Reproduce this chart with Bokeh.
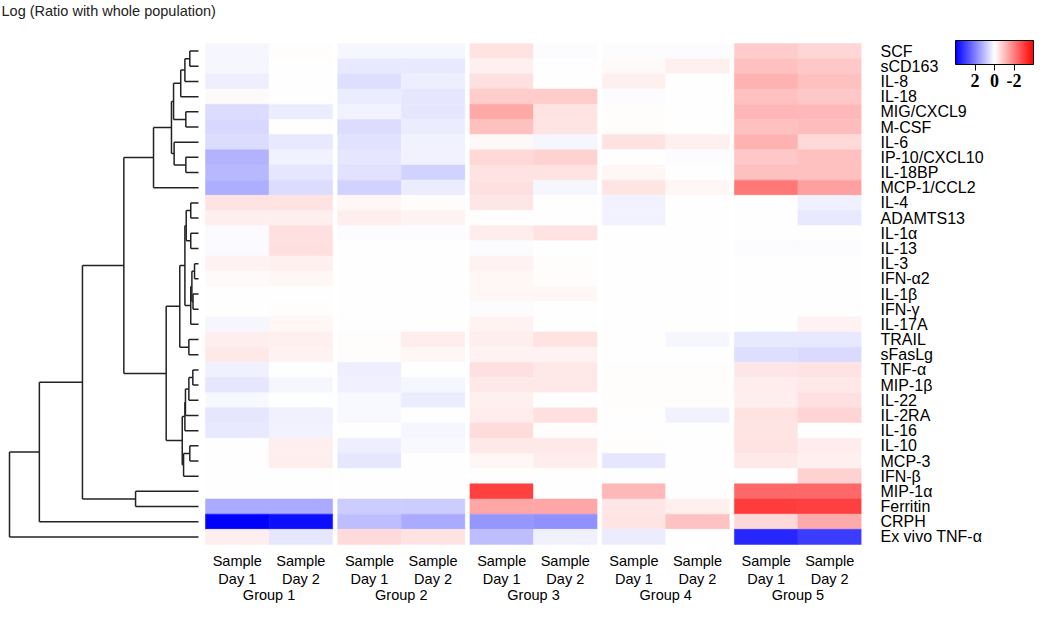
from bokeh.plotting import figure
from bokeh.models import (Range1d, FixedTicker, ColumnDataSource,
                          LinearColorMapper, ColorBar)
from bokeh.core.properties import value
from bokeh.transform import transform
from bokeh.embed import file_html
from bokeh.resources import INLINE

# ---------------- data ----------------
rows = ["SCF", "sCD163", "IL-8", "IL-18", "MIG/CXCL9", "M-CSF", "IL-6",
        "IP-10/CXCL10", "IL-18BP", "MCP-1/CCL2", "IL-4", "ADAMTS13", "IL-1α",
        "IL-13", "IL-3", "IFN-α2", "IL-1β", "IFN-γ", "IL-17A", "TRAIL", "sFasLg",
        "TNF-α", "MIP-1β", "IL-22", "IL-2RA", "IL-16", "IL-10", "MCP-3", "IFN-β",
        "MIP-1α", "Ferritin", "CRPH", "Ex vivo TNF-α"]
groups = ["Group 1", "Group 2", "Group 3", "Group 4", "Group 5"]
days = ["Sample\nDay 1", "Sample\nDay 2"]
title_text = "Log (Ratio with whole population)"

g1_day1 = [0.15, 0.15, 0.25, -0.08, 0.55, 0.6, 0.55, 1.2, 1.1, 1.25, -0.45, -0.27, 0.08, 0.08, -0.2, -0.08, 0.03,
           -0.03, 0.15, -0.27, -0.35, 0.22, 0.4, 0.1, 0.38, 0.35, 0.03, 0.03, 0.03, 0.03, 1.33, 4.0, -0.27]
g1_day2 = [-0.05, 0.02, -0.03, 0.02, 0.3, -0.03, 0.35, 0.2, 0.4, 0.55, -0.45, -0.27, -0.5, -0.5, -0.22, -0.15, -0.03,
           -0.05, -0.15, -0.25, -0.2, 0.03, 0.15, -0.03, 0.22, 0.2, -0.27, -0.27, 0.03, 0.03, 1.33, 3.75, 0.4]
g2_day1 = [0.15, 0.35, 0.5, 0.3, 0.2, 0.55, 0.45, 0.4, 0.45, 0.7, -0.15, -0.27, 0.05, 0.03, 0.03, 0.03, 0.02,
           0.03, 0.03, -0.05, -0.05, 0.25, 0.22, 0.1, 0.12, 0.03, 0.25, 0.38, 0.03, 0.03, 0.8, 1.0, -0.58]
g2_day2 = [0.15, 0.35, 0.25, 0.4, 0.4, 0.3, 0.2, 0.2, 0.7, 0.3, -0.05, -0.2, 0.05, 0.03, 0.03, 0.03, 0.02,
           0.03, 0.03, -0.3, -0.15, 0.03, 0.15, 0.3, 0.03, 0.15, 0.12, 0.03, 0.03, 0.03, 0.8, 1.33, -0.45]
g3_day1 = [-0.45, -0.25, -0.5, -0.8, -1.35, -1.0, -0.1, -0.6, -0.45, -0.5, -0.4, 0.02, -0.3, 0.05, -0.2, -0.15, -0.15,
           0.05, -0.2, -0.27, -0.2, -0.5, -0.35, -0.25, -0.3, -0.55, -0.35, -0.15, 0.03, -3.0, -1.4, 1.65, 1.0]
g3_day2 = [0.05, -0.03, -0.03, -0.8, -0.45, -0.42, 0.15, -0.7, -0.45, 0.15, -0.03, -0.03, -0.45, 0.03, -0.05, -0.05, -0.15,
           0.03, -0.03, -0.45, -0.2, -0.35, -0.35, 0.03, -0.5, -0.05, -0.35, -0.3, 0.03, 0.03, -1.4, 1.72, 0.22]
g4_day1 = [0.05, -0.08, -0.22, 0.05, -0.05, -0.05, -0.45, -0.03, -0.15, -0.42, 0.2, 0.2, 0.03, 0.03, 0.03, 0.03, -0.03,
           0.03, -0.03, 0.03, -0.03, -0.05, -0.05, -0.05, 0.03, 0.03, -0.05, 0.4, 0.03, -1.1, -0.4, -0.42, 0.3]
g4_day2 = [0.05, -0.25, -0.03, -0.03, -0.03, -0.03, -0.22, 0.05, -0.03, -0.15, 0.03, 0.03, 0.03, 0.03, 0.03, 0.03, -0.03,
           0.03, -0.03, 0.15, 0.03, -0.05, -0.05, -0.05, 0.2, -0.03, 0.03, 0.03, 0.03, 0.03, -0.25, -0.95, 0.03]
g5_day1 = [-0.8, -1.0, -1.2, -1.0, -1.15, -1.0, -1.2, -0.85, -1.0, -2.1, -0.03, -0.03, 0.03, 0.05, 0.03, 0.03, 0.03,
           0.03, 0.03, 0.35, 0.5, -0.4, -0.3, -0.27, -0.45, -0.42, -0.45, -0.35, 0.03, -2.35, -3.05, -0.62, 3.4]
g5_day2 = [-0.65, -0.85, -1.0, -0.85, -1.1, -1.05, -0.62, -1.0, -1.0, -1.5, 0.22, 0.35, 0.03, 0.05, 0.03, 0.03, 0.03,
           0.03, -0.2, 0.35, 0.58, -0.45, -0.35, -0.5, -0.68, 0.03, -0.3, -0.25, -0.7, -2.35, -3.0, -1.33, 3.05]
columns = [g1_day1, g1_day2, g2_day1, g2_day2, g3_day1, g3_day2, g4_day1, g4_day2, g5_day1, g5_day2]

# dendrogram (R hclust style: negative = leaf number, positive = earlier merge)
merge_a = [-1, 1, 2, -5, 3, -8, -7, 5, 8, -11, -13, 10, -15, -17, 13, 15, 12, -20, 17,
           -22, 20, 21, 22, -27, 24, 23, 19, 9, -30, 28, 30, 31]
merge_b = [-2, -3, -4, -6, 4, -9, 6, 7, -10, -12, -14, 11, -16, -18, 14, -19, 16, -21, 18,
           -23, -24, -25, -26, -28, -29, 25, 26, 27, -31, 29, -32, -33]
merge_h = [0.46, 0.72, 0.94, 0.67, 1.32, 0.67, 1.29, 1.43, 2.38, 0.41, 0.41, 0.65, 0.21, 0.29, 0.35, 0.41, 0.72, 0.51, 0.99,
           0.30, 0.51, 0.69, 0.72, 0.46, 0.79, 0.86, 1.71, 3.95, 3.33, 6.14, 8.42, 10.0]

legend_ticks = [-2, 0, 2]

# ---------------- layout constants (px) ----------------
W, H = 1034, 604
GAP = 0.08
N = len(rows)
HEAT_LEFT, HEAT_RIGHT = 205, 861
HEAT_TOP, HEAT_BOTTOM = 43, 544
PX_UNIT = (HEAT_RIGHT - HEAT_LEFT) / (10 + 4 * GAP)
PX_ROW = (HEAT_BOTTOM - HEAT_TOP) / N
DEND_ROOT, DEND_LEAF = 9, 198
PX_H = (DEND_LEAF - DEND_ROOT) / max(merge_h)


def row_at(px):
    """vertical pixel -> row coordinate"""
    return (px - HEAT_TOP) / PX_ROW


# heatmap cells
xs, ys, vals = [], [], []
col_centers = []
for j, col in enumerate(columns):
    cx = j + (j // 2) * GAP + 0.5
    col_centers.append(cx)
    for i, v in enumerate(col):
        xs.append(cx)
        ys.append(i + 0.5)
        vals.append(v)
group_centers = [(col_centers[2 * g] + col_centers[2 * g + 1]) / 2 for g in range(len(groups))]


def lerp_palette():
    pal = []
    for k in range(256):
        t = k / 255
        if t <= 0.5:
            s = t * 2
            r, g, b = 255, int(round(255 * s)), int(round(255 * s))
        else:
            s = (1 - t) * 2
            r, g, b = int(round(255 * s)), int(round(255 * s)), 255
        pal.append("#%02x%02x%02x" % (r, g, b))
    return pal


pal = lerp_palette()  # red (low) -> white -> blue (high)
mapper = LinearColorMapper(palette=pal, low=-4, high=4)

p = figure(width=W, height=H, output_backend="svg", toolbar_location=None,
           x_range=Range1d(-HEAT_LEFT / PX_UNIT, 10 + 4 * GAP),
           y_range=Range1d(row_at(H), row_at(0)), y_axis_location="right",
           x_axis_location=None,
           min_border_left=0, min_border_right=W - HEAT_RIGHT,
           min_border_top=0, min_border_bottom=0)
p.outline_line_color = None
p.grid.visible = False
p.background_fill_color = "white"
p.extra_x_ranges = {"dend": Range1d(max(merge_h) + DEND_ROOT / PX_H,
                                    -(HEAT_RIGHT - DEND_LEAF) / PX_H)}

# heatmap
src = ColumnDataSource(dict(x=xs, y=ys, v=vals))
p.rect("x", "y", width=1, height=1, source=src,
       fill_color=transform("v", mapper), line_color=transform("v", mapper), line_width=0.5)

# dendrogram
node_y, node_h = [], []
x0s, y0s, x1s, y1s = [], [], [], []


def pos(k):
    if k < 0:
        return (-k - 1) + 0.5, 0.0
    return node_y[k - 1], node_h[k - 1]


for a, b, h in zip(merge_a, merge_b, merge_h):
    ya, ha = pos(a)
    yb, hb = pos(b)
    x0s += [h, ha, hb]
    y0s += [ya, ya, yb]
    x1s += [h, h, h]
    y1s += [yb, ya, yb]
    node_y.append((ya + yb) / 2)
    node_h.append(h)

p.segment(x0=x0s, y0=y0s, x1=x1s, y1=y1s, x_range_name="dend",
          line_color="#222222", line_width=1.5)

# title
p.text(x=[max(merge_h) + (DEND_ROOT - 1) / PX_H], y=[row_at(10)], text=[title_text],
       x_range_name="dend", text_align="left", text_baseline="middle",
       text_font=value("Liberation Sans"), text_font_size="14.5px", text_color="#222222")

# sample/day labels and group labels
p.text(x=col_centers, y=[row_at(569.5)] * len(col_centers),
       text=[days[j % 2] for j in range(len(col_centers))],
       text_align="center", text_baseline="middle", text_line_height=1.12,
       text_font=value("Liberation Sans"), text_font_size="14.5px", text_color="black")
p.text(x=group_centers, y=[row_at(594.5)] * len(groups), text=groups,
       text_align="center", text_baseline="middle",
       text_font=value("Liberation Sans"), text_font_size="14.5px", text_color="black")

# row labels (right axis)
p.yaxis.ticker = FixedTicker(ticks=[i + 0.5 for i in range(N)])
p.yaxis.major_label_overrides = {i + 0.5: r for i, r in enumerate(rows)}
p.yaxis.axis_line_color = None
p.yaxis.major_tick_line_color = None
p.yaxis.major_tick_out = 0
p.yaxis.minor_tick_line_color = None
p.yaxis.major_label_standoff = 19
p.yaxis.major_label_text_font = "Liberation Sans"
p.yaxis.major_label_text_font_size = "16px"
p.yaxis.major_label_text_color = "black"

# colour key (blue = +2 on the left, red = -2 on the right)
key_mapper = LinearColorMapper(palette=pal[::-1], low=-4, high=4)
cb = ColorBar(color_mapper=key_mapper, orientation="horizontal",
              location=(955, H - 89), width=78, height=24, padding=0,
              ticker=FixedTicker(ticks=legend_ticks),
              major_label_overrides={t: str(-t) for t in legend_ticks},
              major_label_text_font="Liberation Serif",
              major_label_text_font_style="bold",
              major_label_text_font_size="18px",
              major_label_text_color="black",
              major_tick_line_color="black", major_tick_out=6, major_tick_in=0,
              minor_tick_line_color=None,
              bar_line_color="black", bar_line_width=1,
              background_fill_alpha=0, border_line_color=None, label_standoff=3)
p.add_layout(cb)

open("out.html", "w").write(file_html(p, INLINE))
